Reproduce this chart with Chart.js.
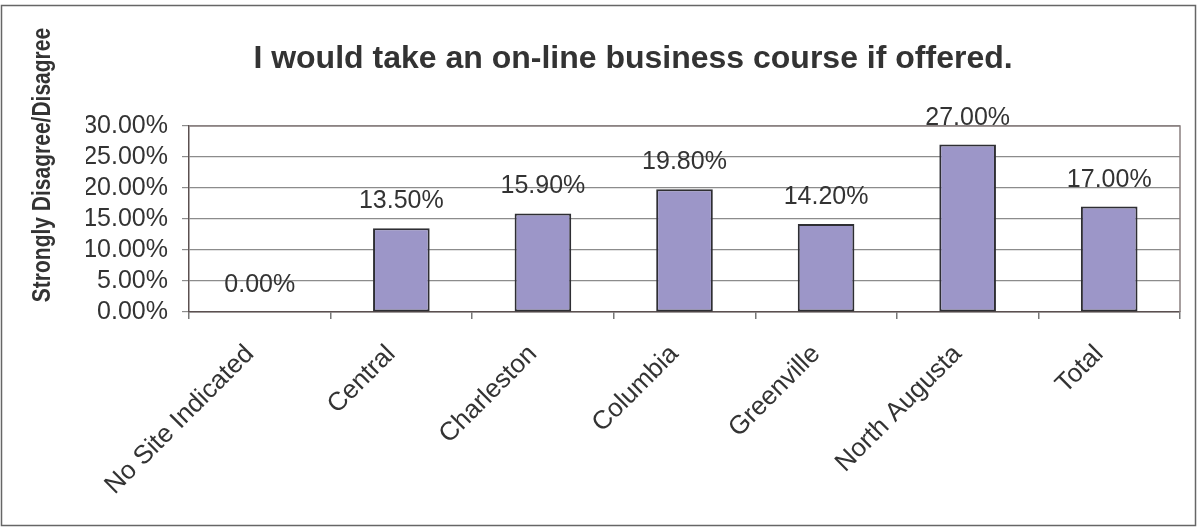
<!DOCTYPE html>
<html lang="en">
<head>
<meta charset="UTF-8">
<title>On-line business course</title>
<script src="https://cdn.jsdelivr.net/npm/chart.js"></script>
<style>
  body { margin: 0; background: #fff; }
  #wrap { width: 1197px; height: 527px; position: relative; }
</style>
</head>
<body>
<div id="wrap"><canvas id="courseChart"></canvas></div>
<script>
  const sites = ['No Site Indicated', 'Central', 'Charleston', 'Columbia', 'Greenville', 'North Augusta', 'Total'];
  const disagreePct = [0, 13.5, 15.9, 19.8, 14.2, 27.0, 17.0];
  const yMin = 0, yMax = 30, yStep = 5;
  const chartTitle = 'I would take an on-line business course if offered.';
  const yTitle = 'Strongly Disagree/Disagree';

  const FONT = '"Liberation Sans", Arial, sans-serif';
  const TEXT = '#333';
  const pct = v => Number(v).toFixed(2) + '%';

  // value labels over the bars, y title, plot frame and outer border
  const extras = {
    id: 'extras',
    afterDatasetsDraw(chart) {
      const ctx = chart.ctx;
      const meta = chart.getDatasetMeta(0);
      ctx.save();
      ctx.font = '25px ' + FONT;
      ctx.fillStyle = TEXT;
      ctx.textAlign = 'center';
      ctx.textBaseline = 'alphabetic';
      meta.data.forEach((bar, i) => {
        ctx.fillText(pct(disagreePct[i]), bar.x, bar.y - 20);
      });
      ctx.restore();
    },
    afterDraw(chart) {
      const ctx = chart.ctx;
      const a = chart.chartArea;
      ctx.save();
      // top and right edge of the plot area
      ctx.strokeStyle = '#8a8080';
      ctx.lineWidth = 1.5;
      ctx.beginPath();
      ctx.moveTo(a.left, a.top);
      ctx.lineTo(a.right, a.top);
      ctx.lineTo(a.right, a.bottom);
      ctx.stroke();

      // rotated axis title (glyphs a bit taller, like the original)
      ctx.translate(43, 165);
      ctx.rotate(-Math.PI / 2);
      ctx.scale(1, 1.25);
      ctx.font = 'bold 21px ' + FONT;
      ctx.fillStyle = TEXT;
      ctx.textAlign = 'center';
      ctx.textBaseline = 'middle';
      ctx.fillText(yTitle, 0, 0);
      ctx.restore();

      ctx.save();
      ctx.strokeStyle = '#666';
      ctx.lineWidth = 1.5;
      ctx.strokeRect(1.5, 5.5, chart.width - 3, chart.height - 7);
      ctx.restore();
    }
  };

  const ctx = document.getElementById('courseChart').getContext('2d');
  new Chart(ctx, {
    type: 'bar',
    data: {
      labels: sites,
      datasets: [{
        data: disagreePct,
        backgroundColor: '#9c96c8',
        borderColor: '#2e2e33',
        borderWidth: 2,
        borderSkipped: false,
        barPercentage: 0.4,
        categoryPercentage: 1.0
      }]
    },
    options: {
      responsive: true,
      maintainAspectRatio: false,
      animation: false,
      layout: { padding: { left: 86, right: 17, top: 0, bottom: 0 } },
      plugins: {
        legend: { display: false },
        tooltip: { enabled: false },
        title: {
          display: true,
          text: chartTitle,
          color: TEXT,
          font: { family: FONT, size: 32, weight: 'bold', lineHeight: 1.2 },
          padding: { top: 40, bottom: 47.6 }
        }
      },
      scales: {
        x: {
          grid: { offset: true, drawOnChartArea: false, tickLength: 7, color: '#777', lineWidth: 1.5 },
          border: { color: '#5b5050', width: 1.5 },
          ticks: {
            color: TEXT,
            font: { family: FONT, size: 26 },
            minRotation: 45,
            maxRotation: 45,
            padding: 20,
            labelOffset: -10,
            autoSkip: false
          },
          afterFit: s => { s.height = 215; }
        },
        y: {
          min: yMin,
          max: yMax,
          grid: { color: '#8c8c8c', lineWidth: 1.2, tickLength: 7 },
          border: { color: '#5b5050', width: 1.5 },
          ticks: {
            stepSize: yStep,
            autoSkip: false,
            color: TEXT,
            font: { family: FONT, size: 25, lineHeight: 1 },
            padding: 14,
            callback: v => pct(v)
          },
          afterFit: s => { s.width = 103; }
        }
      }
    },
    plugins: [extras]
  });
</script>
</body>
</html>
